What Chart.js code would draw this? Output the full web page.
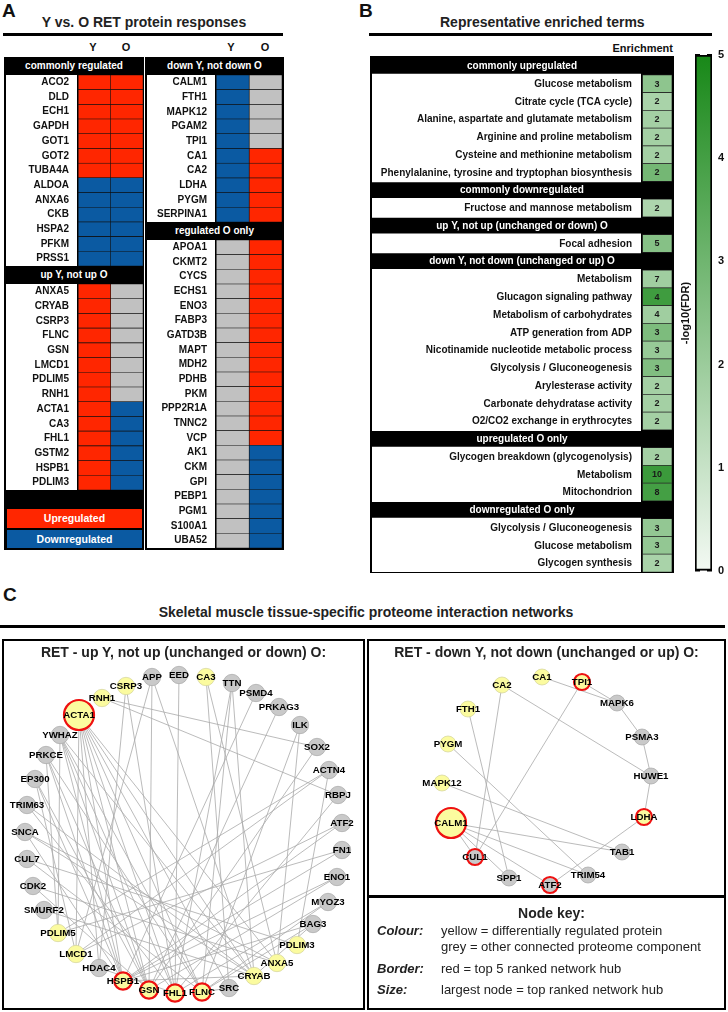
<!DOCTYPE html>
<html>
<head>
<meta charset="utf-8">
<script src="https://cdn.jsdelivr.net/npm/chart.js@4.4.0/dist/chart.umd.min.js"></script>
<style>
  body { margin: 0; background: #fff; }
  #page { position: relative; width: 728px; height: 1012px; overflow: hidden;
          font-family: Arial, "Liberation Sans", Helvetica, sans-serif; color: #111; }
  #page div, #page canvas { position: absolute; }
  .letter { font-weight: bold; font-size: 19px; line-height: 20px; color: #111; }
  .title { font-weight: bold; font-size: 14px; line-height: 16px; text-align: center; color: #222; white-space: nowrap; }
  .rule { height: 3px; background: #000; }
  .box { background: #000; }
  .band { background: #000; color: #fff; font-weight: bold; font-size: 10px; line-height: 18px; text-align: center; white-space: nowrap; }
  .colhead { width: 20px; font-weight: bold; font-size: 11px; line-height: 14px; text-align: center; }
  .key { color: #fff; font-weight: bold; font-size: 10.5px; text-align: center; }
  .genes { background: #fff; }
  .frame { border: 2px solid #000; box-sizing: border-box; z-index: 2; }
  .sub { font-size: 13px; line-height: 16px; white-space: nowrap; color: #222; z-index: 3; }
</style>
</head>
<body>
<div id="page">
  <!-- panel A -->
  <div class="letter" style="left:2px;top:1px;">A</div>
  <div class="title" style="left:0;width:288px;top:14px;">Y vs. O RET protein responses</div>
  <div class="rule" style="left:3px;width:280px;top:33px;"></div>
  <div class="colhead" style="left:83px;top:40px;">Y</div>
  <div class="colhead" style="left:116px;top:40px;">O</div>
  <div class="colhead" style="left:221px;top:40px;">Y</div>
  <div class="colhead" style="left:255px;top:40px;">O</div>

  <div class="box" style="left:4px;top:57px;width:140px;height:493px;"></div>
  <div class="band" style="left:4px;top:57px;width:140px;">commonly regulated</div>
  <canvas id="commonChart" class="genes" width="137" height="191" style="left:6px;top:75px;"></canvas>
  <div class="band" style="left:4px;top:266px;width:140px;">up Y, not up O</div>
  <canvas id="upYChart" class="genes" width="137" height="206" style="left:6px;top:284px;"></canvas>
  <div class="key" style="left:7px;top:509px;width:135px;height:19px;line-height:19px;background:#ff2600;">Upregulated</div>
  <div class="key" style="left:7px;top:530px;width:135px;height:18px;line-height:18px;background:#0b5aa2;">Downregulated</div>

  <div class="box" style="left:145px;top:57px;width:139px;height:493px;"></div>
  <div class="band" style="left:145px;top:57px;width:139px;">down Y, not down O</div>
  <canvas id="downYChart" class="genes" width="135" height="147" style="left:147px;top:75px;"></canvas>
  <div class="band" style="left:145px;top:222px;width:139px;">regulated O only</div>
  <canvas id="oOnlyChart" class="genes" width="135" height="308" style="left:147px;top:240px;"></canvas>

  <!-- panel B -->
  <div class="letter" style="left:359px;top:1px;">B</div>
  <div class="title" style="left:440px;width:200px;top:14px;">Representative enriched terms</div>
  <div class="rule" style="left:369px;width:343px;top:33px;"></div>
  <div style="left:573px;width:100px;top:41px;font-weight:bold;font-size:11px;line-height:14px;text-align:right;">Enrichment</div>
  <div class="box" style="left:370px;top:56px;width:304px;height:517px;"></div>
  <canvas id="termChart" width="300" height="515" style="left:372px;top:57px;"></canvas>
  <canvas id="scaleBar" width="52" height="532" style="left:676px;top:48px;"></canvas>

  <!-- panel C -->
  <div class="letter" style="left:3px;top:585px;">C</div>
  <div class="title" style="left:2px;width:728px;top:604px;">Skeletal muscle tissue-specific proteome interaction networks</div>
  <div class="rule" style="left:0;width:725px;top:625px;"></div>

  <canvas id="upNet" width="363" height="371" style="left:2px;top:639px;"></canvas>
  <div class="frame" style="left:2px;top:639px;width:363px;height:371px;"></div>
  <div class="title" style="left:2px;width:363px;top:644px;z-index:3;">RET - up Y, not up (unchanged or down) O:</div>

  <canvas id="downNet" width="359" height="256" style="left:367px;top:639px;"></canvas>
  <div class="frame" style="left:367px;top:639px;width:359px;height:371px;"></div>
  <div class="title" style="left:367px;width:359px;top:644px;z-index:3;">RET - down Y, not down (unchanged or up) O:</div>
  <div class="rule" style="left:367px;width:359px;top:895px;z-index:3;"></div>
  <div class="title" style="left:367px;width:369px;top:905px;z-index:3;">Node key:</div>
  <div class="sub" style="left:377px;top:923px;font-weight:bold;font-style:italic;">Colour:</div>
  <div class="sub" style="left:441px;top:923px;">yellow = differentially regulated protein</div>
  <div class="sub" style="left:441px;top:939px;">grey = other connected proteome component</div>
  <div class="sub" style="left:377px;top:961px;font-weight:bold;font-style:italic;">Border:</div>
  <div class="sub" style="left:441px;top:961px;">red = top 5 ranked network hub</div>
  <div class="sub" style="left:377px;top:982px;font-weight:bold;font-style:italic;">Size:</div>
  <div class="sub" style="left:441px;top:982px;">largest node = top ranked network hub</div>
</div>

<script>
// ---- panel A: response per protein (1 = up, -1 = down, 0 = not changed)
const commonGenes = ['ACO2', 'DLD', 'ECH1', 'GAPDH', 'GOT1', 'GOT2', 'TUBA4A', 'ALDOA', 'ANXA6', 'CKB', 'HSPA2', 'PFKM', 'PRSS1'];
const commonY = [1, 1, 1, 1, 1, 1, 1, -1, -1, -1, -1, -1, -1];
const commonO = [1, 1, 1, 1, 1, 1, 1, -1, -1, -1, -1, -1, -1];

const upYGenes = ['ANXA5', 'CRYAB', 'CSRP3', 'FLNC', 'GSN', 'LMCD1', 'PDLIM5', 'RNH1', 'ACTA1', 'CA3', 'FHL1', 'GSTM2', 'HSPB1', 'PDLIM3'];
const upYY = [1, 1, 1, 1, 1, 1, 1, 1, 1, 1, 1, 1, 1, 1];
const upYO = [0, 0, 0, 0, 0, 0, 0, 0, -1, -1, -1, -1, -1, -1];

const downYGenes = ['CALM1', 'FTH1', 'MAPK12', 'PGAM2', 'TPI1', 'CA1', 'CA2', 'LDHA', 'PYGM', 'SERPINA1'];
const downYY = [-1, -1, -1, -1, -1, -1, -1, -1, -1, -1];
const downYO = [0, 0, 0, 0, 0, 1, 1, 1, 1, 1];

const oOnlyGenes = ['APOA1', 'CKMT2', 'CYCS', 'ECHS1', 'ENO3', 'FABP3', 'GATD3B', 'MAPT', 'MDH2', 'PDHB', 'PKM', 'PPP2R1A', 'TNNC2', 'VCP', 'AK1', 'CKM', 'GPI', 'PEBP1', 'PGM1', 'S100A1', 'UBA52'];
const oOnlyY = [0, 0, 0, 0, 0, 0, 0, 0, 0, 0, 0, 0, 0, 0, 0, 0, 0, 0, 0, 0, 0];
const oOnlyO = [1, 1, 1, 1, 1, 1, 1, 1, 1, 1, 1, 1, 1, 1, -1, -1, -1, -1, -1, -1, -1];

// ---- panel B: enriched terms, gene counts and -log10(FDR)
const termHeaders = ['commonly upregulated', 'commonly downregulated', 'up Y, not up (unchanged or down) O',
  'down Y, not down (unchanged or up) O', 'upregulated O only', 'downregulated O only'];
const upBothTerms = ['Glucose metabolism', 'Citrate cycle (TCA cycle)', 'Alanine, aspartate and glutamate metabolism',
  'Arginine and proline metabolism', 'Cysteine and methionine metabolism', 'Phenylalanine, tyrosine and tryptophan biosynthesis'];
const upBothCounts = [3, 2, 2, 2, 2, 2];
const upBothFdr = [2.3, 1.7, 1.8, 1.8, 1.8, 2.9];
const downBothTerms = ['Fructose and mannose metabolism'];
const downBothCounts = [2];
const downBothFdr = [1.6];
const upYTerms = ['Focal adhesion'];
const upYCounts = [5];
const upYFdr = [2.5];
const downYTerms = ['Metabolism', 'Glucagon signaling pathway', 'Metabolism of carbohydrates', 'ATP generation from ADP',
  'Nicotinamide nucleotide metabolic process', 'Glycolysis / Gluconeogenesis', 'Arylesterase activity',
  'Carbonate dehydratase activity', 'O2/CO2 exchange in erythrocytes'];
const downYCounts = [7, 4, 4, 3, 3, 3, 2, 2, 2];
const downYFdr = [1.9, 4.1, 1.9, 2.7, 2.1, 2.6, 1.8, 1.8, 1.8];
const upOTerms = ['Glycogen breakdown (glycogenolysis)', 'Metabolism', 'Mitochondrion'];
const upOCounts = [2, 10, 8];
const upOFdr = [1.8, 4.2, 4.0];
const downOTerms = ['Glycolysis / Gluconeogenesis', 'Glucose metabolism', 'Glycogen synthesis'];
const downOCounts = [3, 3, 2];
const downOFdr = [2.2, 2.2, 1.7];
const fdrTicks = [0, 1, 2, 3, 4, 5];

// ---- panel C: network layouts (layout units inside each network box)
const upNetNodes = ['ACTA1', 'RNH1', 'CSRP3', 'APP', 'EED', 'CA3', 'TTN', 'PSMD4', 'PRKAG3', 'ILK', 'SOX2', 'ACTN4',
  'RBPJ', 'ATF2', 'FN1', 'ENO1', 'MYOZ3', 'BAG3', 'PDLIM3', 'ANXA5', 'CRYAB', 'SRC', 'FLNC', 'FHL1', 'GSN', 'HSPB1',
  'HDAC4', 'LMCD1', 'PDLIM5', 'SMURF2', 'CDK2', 'CUL7', 'SNCA', 'TRIM63', 'EP300', 'PRKCE', 'YWHAZ'];
const upNetX = [77, 100, 124, 150, 177, 204, 230, 254, 277, 298, 315, 327, 336, 340, 340, 335, 326, 311, 295, 275, 252,
  227, 200, 173, 147, 121, 97, 74, 56, 42, 31, 25, 23, 25, 33, 44, 58];
const upNetY = [76, 59, 47, 38, 36, 38, 44, 54, 68, 86, 108, 131, 156, 184, 211, 238, 263, 285, 306, 324, 337, 349,
  353, 354, 351, 342, 329, 315, 294, 271, 247, 220, 193, 166, 140, 116, 96];
const upNetYellow = ['ACTA1', 'RNH1', 'CSRP3', 'CA3', 'PDLIM3', 'ANXA5', 'CRYAB', 'FLNC', 'FHL1', 'GSN', 'HSPB1', 'LMCD1', 'PDLIM5'];
const upNetHubs = ['ACTA1', 'HSPB1', 'GSN', 'FHL1', 'FLNC'];
const upNetEdges = [
  ['ACTA1', 'HSPB1'], ['ACTA1', 'GSN'], ['ACTA1', 'FHL1'], ['ACTA1', 'FLNC'], ['ACTA1', 'CRYAB'], ['ACTA1', 'SRC'],
  ['ACTA1', 'HDAC4'], ['ACTA1', 'ANXA5'], ['ACTA1', 'LMCD1'],
  ['YWHAZ', 'HSPB1'], ['YWHAZ', 'GSN'], ['YWHAZ', 'FLNC'], ['YWHAZ', 'CRYAB'], ['YWHAZ', 'FHL1'], ['YWHAZ', 'PDLIM5'],
  ['PRKCE', 'HSPB1'], ['PRKCE', 'GSN'], ['PRKCE', 'PDLIM5'], ['PRKCE', 'FLNC'],
  ['EP300', 'LMCD1'], ['EP300', 'HSPB1'], ['EP300', 'GSN'],
  ['TRIM63', 'FHL1'], ['TRIM63', 'CRYAB'],
  ['SNCA', 'HSPB1'], ['SNCA', 'CRYAB'], ['SNCA', 'ANXA5'],
  ['CUL7', 'FLNC'], ['CUL7', 'PDLIM3'], ['CDK2', 'ANXA5'], ['CDK2', 'GSN'], ['SMURF2', 'CRYAB'],
  ['CSRP3', 'HDAC4'], ['CSRP3', 'FHL1'], ['APP', 'GSN'], ['APP', 'CRYAB'], ['APP', 'LMCD1'], ['EED', 'FHL1'],
  ['CA3', 'SRC'], ['CA3', 'ANXA5'], ['TTN', 'FHL1'], ['TTN', 'FLNC'], ['TTN', 'CRYAB'], ['PSMD4', 'HSPB1'],
  ['PRKAG3', 'GSN'], ['ILK', 'ANXA5'], ['ILK', 'FLNC'], ['RNH1', 'SOX2'], ['RNH1', 'RBPJ'],
  ['ACTN4', 'PDLIM3'], ['ACTN4', 'LMCD1'], ['ACTN4', 'PDLIM5'], ['RBPJ', 'FHL1'], ['ATF2', 'HSPB1'], ['ATF2', 'LMCD1'],
  ['FN1', 'HSPB1'], ['FN1', 'PDLIM5'], ['ENO1', 'HSPB1'], ['ENO1', 'GSN'], ['MYOZ3', 'FLNC'], ['MYOZ3', 'FHL1'],
  ['BAG3', 'HSPB1'], ['BAG3', 'CRYAB'], ['BAG3', 'FLNC'], ['SRC', 'FLNC'], ['HDAC4', 'FHL1'], ['CRYAB', 'HSPB1'],
  ['SOX2', 'GSN']
];

const downNetNodes = ['CALM1', 'CA1', 'TPI1', 'CA2', 'MAPK6', 'FTH1', 'PSMA3', 'PYGM', 'HUWE1', 'MAPK12', 'LDHA',
  'TAB1', 'CUL1', 'TRIM54', 'SPP1', 'ATF2'];
const downNetX = [84, 175, 215, 135, 250, 101, 275, 81, 284, 75, 277, 255, 108, 221, 142, 183];
const downNetY = [184, 38, 43, 46, 64, 70, 98, 105, 137, 144, 178, 213, 218, 236, 239, 246];
const downNetYellow = ['CALM1', 'CA1', 'TPI1', 'CA2', 'FTH1', 'PYGM', 'MAPK12', 'LDHA'];
const downNetHubs = ['CALM1', 'TPI1', 'LDHA', 'CUL1', 'ATF2'];
const downNetEdges = [
  ['CA1', 'MAPK6'], ['TPI1', 'MAPK6'], ['MAPK6', 'PSMA3'], ['PSMA3', 'HUWE1'], ['HUWE1', 'LDHA'], ['CA2', 'HUWE1'],
  ['TPI1', 'CUL1'], ['CA2', 'CUL1'], ['FTH1', 'SPP1'], ['PYGM', 'TRIM54'], ['MAPK12', 'TAB1'], ['CALM1', 'TAB1'],
  ['CALM1', 'TRIM54'], ['CALM1', 'CUL1'], ['CALM1', 'SPP1'], ['CALM1', 'ATF2'], ['LDHA', 'ATF2']
];

const FONT = 'Arial, "Liberation Sans", Helvetica, sans-serif';
Chart.defaults.font.family = FONT;
Chart.defaults.color = '#111';
Chart.defaults.animation = false;
Chart.defaults.responsive = false;
Chart.defaults.events = [];
Chart.defaults.plugins.legend.display = false;
Chart.defaults.plugins.tooltip.enabled = false;

function stateColour(v) {
  if (v > 0) return '#ff2600';
  if (v < 0) return '#0b5aa2';
  return '#c1c1c1';
}

// white -> green scale used by both the cells and the colour bar
function fdrColour(v) {
  const t = Math.max(0, Math.min(1, v / 5));
  const lo = [243, 249, 243], hi = [24, 136, 24];
  const c = lo.map((l, i) => Math.round(l + (hi[i] - l) * t));
  return `rgb(${c[0]},${c[1]},${c[2]})`;
}

// a vertical axis asks for half a label of room above and below; the tables need none
function fitWidth(width) {
  return scale => {
    scale.width = width;
    scale.paddingTop = 0;
    scale.paddingBottom = 0;
  };
}

const blackChartArea = {
  id: 'blackChartArea',
  beforeDraw(chart) {
    const a = chart.chartArea;
    chart.ctx.save();
    chart.ctx.fillStyle = '#000';
    chart.ctx.fillRect(a.left, a.top, a.right - a.left, a.bottom - a.top);
    chart.ctx.restore();
  }
};

function geneBlock(id, genes, yResp, oResp, labelWidth) {
  return new Chart(document.getElementById(id), {
    type: 'bar',
    data: {
      labels: genes,
      datasets: [
        { label: 'Y', data: genes.map(() => [0, 1]), backgroundColor: yResp.map(stateColour) },
        { label: 'O', data: genes.map(() => [1, 2]), backgroundColor: oResp.map(stateColour) }
      ]
    },
    options: {
      indexAxis: 'y',
      layout: { padding: 0, autoPadding: false },
      datasets: { bar: { grouped: false, barPercentage: 1, categoryPercentage: 1,
                         borderWidth: 0.6, borderColor: '#111', borderSkipped: false } },
      scales: {
        x: { type: 'linear', min: -0.04, max: 2, display: false },
        y: {
          grid: { display: false, drawTicks: false },
          border: { display: false },
          ticks: { autoSkip: false, color: '#111', padding: 8, font: { size: 10, weight: 'bold' } },
          afterFit: fitWidth(labelWidth)
        }
      }
    },
    plugins: [blackChartArea]
  });
}

geneBlock('commonChart', commonGenes, commonY, commonO, 71);
geneBlock('upYChart', upYGenes, upYY, upYO, 71);
geneBlock('downYChart', downYGenes, downYY, downYO, 68);
geneBlock('oOnlyChart', oOnlyGenes, oOnlyY, oOnlyO, 68);

// ---- panel B table
const termBlocks = [
  [termHeaders[0], upBothTerms, upBothCounts, upBothFdr],
  [termHeaders[1], downBothTerms, downBothCounts, downBothFdr],
  [termHeaders[2], upYTerms, upYCounts, upYFdr],
  [termHeaders[3], downYTerms, downYCounts, downYFdr],
  [termHeaders[4], upOTerms, upOCounts, upOFdr],
  [termHeaders[5], downOTerms, downOCounts, downOFdr]
];
const slots = [];
termBlocks.forEach(([head, terms, counts, fdr]) => {
  slots.push({ band: true, text: head });
  terms.forEach((t, i) => slots.push({ band: false, text: t, count: counts[i], fdr: fdr[i] }));
});

const termText = {
  id: 'termText',
  afterDatasetsDraw(chart) {
    const { ctx, chartArea, scales: { x, y } } = chart;
    ctx.save();
    ctx.textBaseline = 'middle';
    slots.forEach((s, i) => {
      const py = y.getPixelForValue(i) + 0.5;
      if (s.band) {
        ctx.fillStyle = '#fff';
        ctx.font = 'bold 10px ' + FONT;
        ctx.textAlign = 'center';
        ctx.fillText(s.text, (chartArea.left + chartArea.right) / 2, py);
      } else {
        ctx.fillStyle = '#111';
        ctx.font = 'bold 10px ' + FONT;
        ctx.textAlign = 'right';
        ctx.fillText(s.text, x.getPixelForValue(260), py);
        ctx.font = 'bold 9px ' + FONT;
        ctx.textAlign = 'center';
        ctx.fillStyle = '#1a1a1a';
        ctx.fillText(String(s.count), x.getPixelForValue(285), py);
      }
    });
    ctx.restore();
  }
};

new Chart(document.getElementById('termChart'), {
  type: 'bar',
  data: {
    labels: slots.map(s => s.text),
    datasets: [
      { data: slots.map(s => s.band ? null : [270.5, 300]),
        backgroundColor: slots.map(s => s.band ? '#000' : fdrColour(s.fdr)),
        borderWidth: 0.7, borderColor: '#2a2a2a', borderSkipped: false },
      { data: slots.map(s => s.band ? null : [0, 268]), backgroundColor: '#fff', borderWidth: 0, inflateAmount: 1 }
    ]
  },
  options: {
    indexAxis: 'y',
    layout: { padding: 0, autoPadding: false },
    datasets: { bar: { grouped: false, barPercentage: 1, categoryPercentage: 1 } },
    scales: {
      x: { type: 'linear', min: 0, max: 300, display: false },
      y: { display: false }
    }
  },
  plugins: [termText]
});

// colour bar
new Chart(document.getElementById('scaleBar'), {
  type: 'bar',
  data: {
    labels: ['-log10(FDR)'],
    datasets: [{
      data: [[fdrTicks[0], fdrTicks[fdrTicks.length - 1]]],
      backgroundColor(context) {
        const { chart } = context;
        const area = chart.chartArea;
        if (!area) return fdrColour(2.5);
        const g = chart.ctx.createLinearGradient(0, area.bottom, 0, area.top);
        g.addColorStop(0, fdrColour(0));
        g.addColorStop(1, fdrColour(5));
        return g;
      },
      borderColor: '#000', borderWidth: 2, borderSkipped: false,
      barPercentage: 1, categoryPercentage: 1
    }]
  },
  options: {
    layout: { padding: { top: 7, bottom: 9, left: 0, right: 0 }, autoPadding: false },
    scales: {
      x: { display: false },
      y: {
        position: 'right', min: 0, max: 5, z: 1,
        afterBuildTicks(scale) { scale.ticks = fdrTicks.map(v => ({ value: v })); },
        ticks: { padding: 6, color: '#111', font: { size: 11, weight: 'bold' } },
        grid: { drawTicks: false, color: '#000', lineWidth: 1.4 },
        border: { display: false, dash: [5, 7] },
        afterFit: fitWidth(16)
      },
      yLeft: {
        position: 'left', min: 0, max: 5,
        ticks: { display: false },
        grid: { display: false, drawTicks: false },
        border: { display: false },
        title: { display: true, text: '-log10(FDR)', color: '#111', padding: { top: 3, bottom: 0 },
                 font: { size: 11, weight: 'bold' } },
        afterFit: fitWidth(19)
      }
    }
  }
});

// ---- panel C networks
function nodeLabels(names, xs, ys) {
  return {
    id: 'nodeLabels',
    afterDatasetsDraw(chart) {
      const { ctx, scales: { x, y } } = chart;
      ctx.save();
      ctx.font = 'bold 9.7px ' + FONT;
      ctx.fillStyle = '#000';
      ctx.textAlign = 'center';
      ctx.textBaseline = 'middle';
      names.forEach((n, i) => ctx.fillText(n, x.getPixelForValue(xs[i]), y.getPixelForValue(ys[i]) + 0.5));
      ctx.restore();
    }
  };
}

function drawNetwork(id, names, xs, ys, yellow, hubs, radius, width, height, edges) {
  const pos = n => ({ x: xs[names.indexOf(n)], y: ys[names.indexOf(n)] });
  const edgeSets = edges.map(([a, b]) => ({
    data: [pos(a), pos(b)],
    showLine: true, pointRadius: 0, borderColor: '#a9a9a9', borderWidth: 0.8, order: 2, clip: false
  }));
  const nodeSet = {
    data: names.map((n, i) => ({ x: xs[i], y: ys[i] })),
    pointRadius: names.map(n => n === hubs[0] ? 15 : radius),
    pointBackgroundColor: names.map(n => yellow.includes(n) ? '#fbfb9f' : '#c9c9c9'),
    pointBorderColor: names.map(n => hubs.includes(n) ? '#ee1111' : (yellow.includes(n) ? '#d2d29c' : '#a8a8a8')),
    pointBorderWidth: names.map(n => hubs.includes(n) ? 2.2 : 0.7),
    order: 1, clip: false
  };
  new Chart(document.getElementById(id), {
    type: 'scatter',
    data: { datasets: [nodeSet, ...edgeSets] },
    options: {
      layout: { padding: 0, autoPadding: false },
      scales: {
        x: { type: 'linear', min: 0, max: width, display: false },
        y: { type: 'linear', min: 0, max: height, reverse: true, display: false }
      }
    },
    plugins: [nodeLabels(names, xs, ys)]
  });
}

drawNetwork('upNet', upNetNodes, upNetX, upNetY, upNetYellow, upNetHubs, 8.7, 363, 371, upNetEdges);
drawNetwork('downNet', downNetNodes, downNetX, downNetY, downNetYellow, downNetHubs, 8, 359, 256, downNetEdges);
</script>
</body>
</html>
